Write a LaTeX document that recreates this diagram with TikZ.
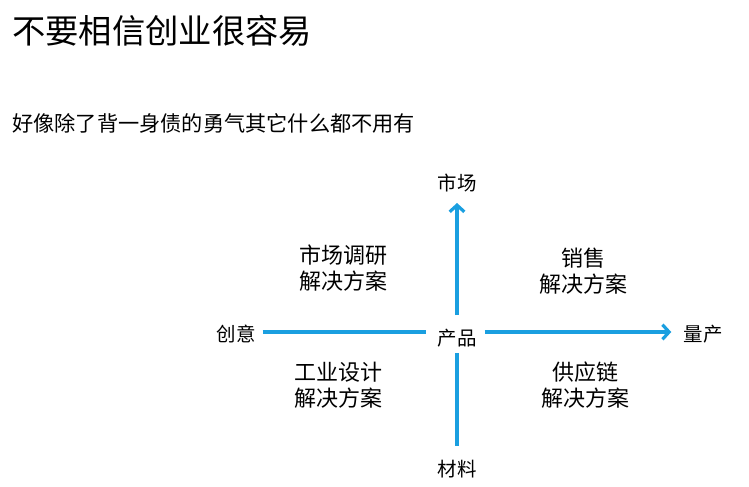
\documentclass[tikz,border=0pt]{standalone}
\usepackage{fontspec}
\setmainfont{Noto Sans CJK SC}
\definecolor{AxisBlue}{RGB}{26, 159, 224}
\usetikzlibrary{arrows.meta, positioning}

\begin{document}
\begin{tikzpicture}[x=0.75pt, y=-0.75pt,
            axis/.style={draw=AxisBlue, line width=2.4pt},
            tip/.style={-{Straight Barb[length=5pt, width=11pt, line width=2.4pt]}},
            axislabel/.style={inner sep=0pt, font=\fontsize{14.6pt}{17pt}\selectfont},
            quad/.style={align=center, inner sep=0pt, font=\fontsize{16.5pt}{19.5pt}\selectfont},
        ]
            \useasboundingbox (0,0) rectangle (749,486);
            % titles
            \node[anchor=west, inner sep=0pt, font=\fontsize{25pt}{30pt}\selectfont] (title) at (12,31) {不要相信创业很容易};
            \node[anchor=west, inner sep=0pt, font=\fontsize{15.9pt}{19pt}\selectfont] (subtitle) at (12,123) {好像除了背一身债的勇气其它什么都不用有};
            % axis labels
            \node[axislabel] (chanpin) at (457,338) {产品};
            \node[axislabel] (shichang) at (457,183) {市场};
            \node[axislabel] (cailiao) at (457,469) {材料};
            \node[axislabel] (chuangyi) at (236,334) {创意};
            \node[axislabel] (liangchan) at (703,334) {量产};
            % quadrants
            \node[quad] (diaoyan) at (343,268) {市场调研\\解决方案};
            \node[quad] (xiaoshou) at (583,271) {销售\\解决方案};
            \node[quad] (sheji) at (338,385) {工业设计\\解决方案};
            \node[quad] (gongying) at (585,385) {供应链\\解决方案};
            % axes
            \draw[axis, tip] (chanpin.north |- 0,315) -- (shichang.south |- 0,203);
            \draw[axis] (chanpin.south |- 0,353) -- (cailiao.north |- 0,446);
            \draw[axis, shorten <=5.25pt, shorten >=8.25pt] (chuangyi.east |- 0,332) -- (chanpin.west |- 0,332);
            \draw[axis, tip, shorten <=6pt, shorten >=9pt] (chanpin.east |- 0,332) -- (liangchan.west |- 0,332);
        \end{tikzpicture}
\end{document}
